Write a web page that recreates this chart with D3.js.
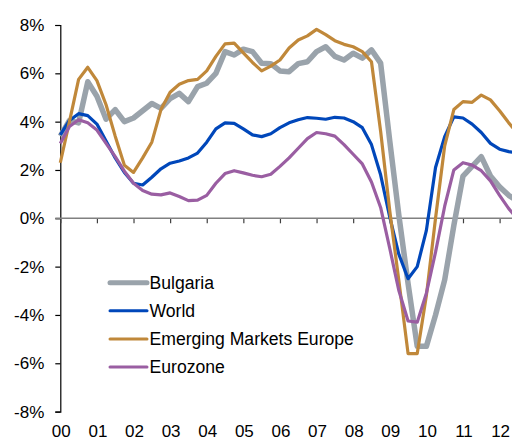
<!DOCTYPE html>
<html>
<head>
<meta charset="utf-8">
<script src="https://cdn.jsdelivr.net/npm/d3@7"></script>
<style>
  body { margin: 0; background: #fff; }
  svg { display: block; font-family: "Liberation Sans", Arial, sans-serif; }
</style>
</head>
<body>
<svg id="chart" width="512" height="441"></svg>
<script>
// quarterly y/y growth, 2000 Q1 onwards
const yearLabels = ["00", "01", "02", "03", "04", "05", "06", "07", "08", "09", "10", "11", "12"];
const yTicks = [-8, -6, -4, -2, 0, 2, 4, 6, 8];

const bulgaria = [3.4, 4.05, 3.95, 5.65, 5.05, 4.1, 4.5, 4.0, 4.15, 4.45, 4.75, 4.55, 4.95, 5.17, 4.83, 5.45,
  5.59, 6.0, 6.9, 6.76, 7.0, 6.9, 6.42, 6.4, 6.1, 6.07, 6.4, 6.48, 6.9, 7.1, 6.7, 6.55, 6.83, 6.63, 6.97, 6.42,
  3.2, 0.1, -2.7, -5.3, -5.3, -4.0, -2.55, -0.3, 1.75, 2.15, 2.55, 1.75, 1.3, 0.95, 0.7];
const world = [3.45, 4.05, 4.33, 4.25, 3.9, 3.2, 2.5, 1.9, 1.45, 1.38, 1.7, 2.05, 2.28, 2.37, 2.5, 2.7,
  3.15, 3.7, 3.95, 3.93, 3.7, 3.45, 3.38, 3.5, 3.75, 3.95, 4.08, 4.17, 4.14, 4.1, 4.18, 4.15, 4.0, 3.75, 3.05, 1.8,
  0.05, -1.5, -2.5, -2.0, -0.5, 2.1, 3.38, 4.2, 4.15, 3.9, 3.55, 3.1, 2.86, 2.76, 2.7];
const emerging = [2.3, 4.0, 5.75, 6.25, 5.7, 4.7, 3.4, 2.2, 1.9, 2.5, 3.15, 4.5, 5.22, 5.55, 5.7, 5.75,
  6.1, 6.7, 7.22, 7.25, 6.85, 6.45, 6.1, 6.3, 6.55, 7.05, 7.38, 7.55, 7.82, 7.6, 7.35, 7.2, 7.1, 6.9, 6.48, 3.6,
  0.3, -2.6, -5.6, -5.6, -3.2, 0.0, 3.0, 4.5, 4.83, 4.8, 5.1, 4.9, 4.45, 3.95, 3.5];
const eurozone = [3.1, 3.8, 4.08, 3.95, 3.65, 3.1, 2.55, 1.95, 1.45, 1.15, 1.0, 0.97, 1.05, 0.9, 0.73, 0.75,
  0.95, 1.45, 1.85, 1.97, 1.88, 1.78, 1.72, 1.82, 2.15, 2.5, 2.9, 3.3, 3.55, 3.5, 3.4, 3.05, 2.65, 2.25, 1.5, 0.45,
  -1.25, -3.0, -4.25, -4.3, -3.1, -1.4, 0.5, 2.0, 2.3, 2.2, 1.97, 1.55, 0.95, 0.4, -0.05];

const series = [
  { name: "Bulgaria", values: bulgaria, color: "#9aa3ab", width: 5.5, legendWidth: 5 },
  { name: "World", values: world, color: "#0047ba", width: 3.2, legendWidth: 3 },
  { name: "Emerging Markets Europe", values: emerging, color: "#c0883a", width: 3.2, legendWidth: 3 },
  { name: "Eurozone", values: eurozone, color: "#9a5ea2", width: 3.2, legendWidth: 3 }
];

const svg = d3.select("#chart");

const x = d3.scaleLinear().domain([0, 12]).range([60.3, 499.6]);
const y = d3.scaleLinear().domain([-8, 8]).range([411.6, 25]);

// y axis
const yAxis = d3.axisLeft(y)
  .tickValues(yTicks)
  .tickSize(5)
  .tickPadding(11)
  .tickFormat(d => d + "%");

const gy = svg.append("g")
  .attr("transform", `translate(${x(0)},0)`)
  .call(yAxis);
gy.select(".domain").attr("stroke", "#000").attr("stroke-width", 1.2);
gy.selectAll(".tick line").attr("stroke", "#000").attr("stroke-width", 1.2);
gy.selectAll(".tick text")
  .attr("font-size", 17)
  .attr("font-family", "Liberation Sans, Arial, sans-serif")
  .attr("fill", "#000");

// x axis on the zero line
const xAxis = d3.axisBottom(x)
  .tickValues(d3.range(0, 13))
  .tickSize(5)
  .tickSizeOuter(0)
  .tickFormat("");

const gx = svg.append("g")
  .attr("transform", `translate(0,${y(0)})`)
  .call(xAxis);
gx.select(".domain").remove();
gx.append("line")
  .attr("x1", x(0) - 5)
  .attr("x2", 512)
  .attr("stroke", "#808080")
  .attr("stroke-width", 1.5);
gx.selectAll(".tick line").attr("stroke", "#404040").attr("stroke-width", 1.2);

svg.append("g")
  .selectAll("text")
  .data(yearLabels)
  .join("text")
  .attr("x", (d, i) => x(i) + 1)
  .attr("y", 437)
  .attr("text-anchor", "middle")
  .attr("font-size", 17)
  .attr("fill", "#000")
  .text(d => d);

// lines
const line = d3.line()
  .x((d, i) => x(i / 4))
  .y(d => y(d));

svg.append("g")
  .selectAll("path")
  .data(series)
  .join("path")
  .attr("d", s => line(s.values))
  .attr("fill", "none")
  .attr("stroke", s => s.color)
  .attr("stroke-width", s => s.width)
  .attr("stroke-linejoin", "round");

// legend
const legend = svg.append("g")
  .selectAll("g")
  .data(series)
  .join("g")
  .attr("transform", (d, i) => `translate(110,${282.7 + i * 28.1})`);

legend.append("line")
  .attr("x1", 0)
  .attr("x2", 37)
  .attr("stroke", d => d.color)
  .attr("stroke-width", d => d.legendWidth)
  .attr("stroke-linecap", "round");

legend.append("text")
  .attr("x", 39.5)
  .attr("dy", "0.36em")
  .attr("font-size", 17.6)
  .attr("fill", "#000")
  .text(d => d.name);
</script>
</body>
</html>
